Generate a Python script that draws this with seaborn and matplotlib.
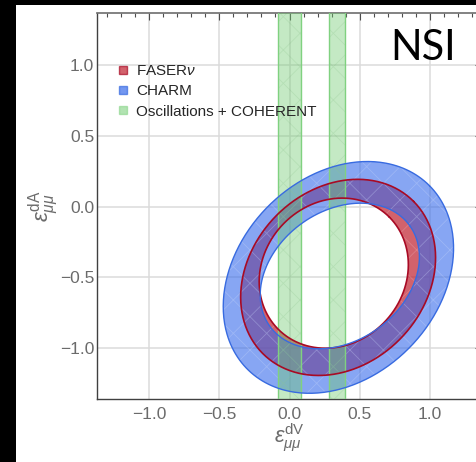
import numpy as np
import pandas as pd
import matplotlib
matplotlib.use("Agg")
import matplotlib.pyplot as plt
import seaborn as sns
from matplotlib.path import Path
from matplotlib.patches import PathPatch, Rectangle, Patch
from matplotlib.ticker import MultipleLocator, FuncFormatter

# ---- data -------------------------------------------------------------
legend_labels = ["FASER$\\nu$", "CHARM", "Oscillations + COHERENT"]

# eps^dV intervals allowed by oscillations + COHERENT
band_lo = [-0.085, 0.280]
band_hi = [0.085, 0.395]

# ellipse boundaries: [centre V, centre A, semi-major, semi-minor, tilt deg]
faser_outer = [0.346, -0.500, 0.760, 0.620, 45]
faser_inner = [0.315, -0.470, 0.560, 0.500, 45]
charm_outer = [0.348, -0.500, 0.917, 0.709, 45]
charm_inner = [0.358, -0.490, 0.612, 0.460, 35]

major_ticks = [-1.0, -0.5, 0.0, 0.5, 1.0]
x_range = [-1.37, 1.37]
y_range = [-1.36, 1.37]

# ---- style ------------------------------------------------------------
sns.set_theme(style="white")
plt.rcParams["font.family"] = ["Liberation Sans", "DejaVu Sans"]
plt.rcParams["mathtext.fontset"] = "custom"
plt.rcParams["mathtext.rm"] = "Liberation Sans"
plt.rcParams["mathtext.it"] = "Liberation Sans:italic"
plt.rcParams["mathtext.bf"] = "Liberation Sans:bold"
plt.rcParams["hatch.linewidth"] = 0.6

RED_FACE = (0.75, 0.12, 0.18)
RED_EDGE = (0.66, 0.04, 0.14)
BLUE_FACE = (0.22, 0.42, 0.92)
BLUE_EDGE = (0.22, 0.42, 0.88)
GREEN_FACE = (0.45, 0.80, 0.45)
GREEN_EDGE = (0.50, 0.82, 0.50)
TICK_GREY = (0.42, 0.42, 0.42)


def ellipse_xy(p, n=361):
    cx, cy, a, b, ang = p
    t = np.linspace(0, 2 * np.pi, n)
    th = np.radians(ang)
    x = cx + a * np.cos(t) * np.cos(th) - b * np.sin(t) * np.sin(th)
    y = cy + a * np.cos(t) * np.sin(th) + b * np.sin(t) * np.cos(th)
    return x, y


def ring_path(outer, inner):
    xo, yo = ellipse_xy(outer)
    xi, yi = ellipse_xy(inner)
    xi, yi = xi[::-1], yi[::-1]
    verts = np.concatenate([np.column_stack([xo, yo]), np.column_stack([xi, yi])])
    codes = np.full(len(verts), Path.LINETO)
    codes[0] = Path.MOVETO
    codes[len(xo)] = Path.MOVETO
    return Path(verts, codes)


def outline_frame(rings, name):
    rows = []
    for k, p in enumerate(rings):
        x, y = ellipse_xy(p)
        rows.append(pd.DataFrame({"eV": x, "eA": y, "curve": f"{name}{k}"}))
    return pd.concat(rows, ignore_index=True)


# ---- figure -----------------------------------------------------------
fig = plt.figure(figsize=(4.76, 4.62), dpi=100, facecolor="black")
fig.add_artist(Rectangle((16 / 476, 0), 1, 457 / 462, transform=fig.transFigure,
                         facecolor="white", edgecolor="none", zorder=-10))

ax = fig.add_axes([97 / 476, 63 / 462, 385 / 476, 386 / 462])
ax.set_facecolor("white")
ax.set_xlim(*x_range)
ax.set_ylim(*y_range)
ax.set_axisbelow(True)
ax.grid(True, which="major", color=(0.86, 0.86, 0.86), lw=1.1)

# rings, with the faint triangulation mesh on top of each fill
for outer, inner, face, alpha, z in [(faser_outer, faser_inner, RED_FACE, 0.70, 2),
                                     (charm_outer, charm_inner, BLUE_FACE, 0.60, 3)]:
    ring = ring_path(outer, inner)
    ax.add_patch(PathPatch(ring, facecolor=face, alpha=alpha, edgecolor="none", zorder=z))
    ax.add_patch(PathPatch(ring, facecolor="none", edgecolor=(1, 1, 1, 0.18), lw=0,
                           hatch="x", zorder=z))

# green bands
for lo, hi in zip(band_lo, band_hi):
    ax.axvspan(lo, hi, facecolor=GREEN_FACE, alpha=0.42, edgecolor="none", zorder=4)
    ax.axvspan(lo, hi, facecolor="none", edgecolor=(0.3, 0.6, 0.3, 0.12), lw=0,
               hatch="x", zorder=4)
    for v in (lo, hi):
        ax.axvline(v, color=GREEN_EDGE, lw=1.0, zorder=5)

# ring outlines
sns.lineplot(data=outline_frame([faser_outer, faser_inner], "f"), x="eV", y="eA",
             units="curve", estimator=None, sort=False, color=RED_EDGE, lw=1.2,
             ax=ax, zorder=6, legend=False)
sns.lineplot(data=outline_frame([charm_outer, charm_inner], "c"), x="eV", y="eA",
             units="curve", estimator=None, sort=False, color=BLUE_EDGE, lw=1.0,
             ax=ax, zorder=6, legend=False)

# axes cosmetics
ax.xaxis.set_major_locator(MultipleLocator(0.5))
ax.yaxis.set_major_locator(MultipleLocator(0.5))
ax.xaxis.set_minor_locator(MultipleLocator(0.1))
ax.yaxis.set_minor_locator(MultipleLocator(0.1))
fmt = FuncFormatter(lambda v, _: f"{v:.1f}".replace("-0.0", "0.0").replace("-", "\u2212"))
ax.xaxis.set_major_formatter(fmt)
ax.yaxis.set_major_formatter(fmt)
ax.tick_params(which="both", direction="in", top=True, right=True,
               color=(0.3, 0.3, 0.3), width=0.8)
ax.tick_params(which="major", length=5, labelsize=12.5, labelcolor=TICK_GREY)
ax.tick_params(which="minor", length=2.6)
ax.tick_params(axis="x", which="major", pad=6)
ax.tick_params(axis="y", which="major", pad=2)
for side in ("left", "bottom"):
    ax.spines[side].set_color((0.25, 0.25, 0.25))
    ax.spines[side].set_linewidth(1.0)
ax.spines["top"].set_color((0.45, 0.45, 0.45))
ax.spines["right"].set_color((0.45, 0.45, 0.45))

ax.set_xlabel(r"$\epsilon^{\mathrm{dV}}_{\mu\mu}$", fontsize=15.5, color=TICK_GREY, labelpad=0)
ax.set_ylabel(r"$\epsilon^{\mathrm{dA}}_{\mu\mu}$", fontsize=16, color=TICK_GREY, labelpad=0)

# legend
handles = [
    Patch(facecolor=RED_FACE, alpha=0.7, edgecolor=RED_EDGE, lw=1.0),
    Patch(facecolor=BLUE_FACE, alpha=0.7, edgecolor=BLUE_EDGE, lw=1.0),
    Patch(facecolor=GREEN_FACE, alpha=0.55, edgecolor=GREEN_EDGE, lw=1.0),
]
ax.legend(handles, legend_labels, loc="upper left", bbox_to_anchor=(0.058, 0.867),
          frameon=False, fontsize=11, handlelength=0.5, handleheight=0.5,
          handletextpad=0.6, labelspacing=0.40, borderpad=0, borderaxespad=0)

fig.text(423 / 476, 1 - 48.5 / 462, "NSI", fontsize=30, family="Lato",
         ha="center", va="center", color="black")

fig.savefig("out.png", dpi=100, facecolor="black")
